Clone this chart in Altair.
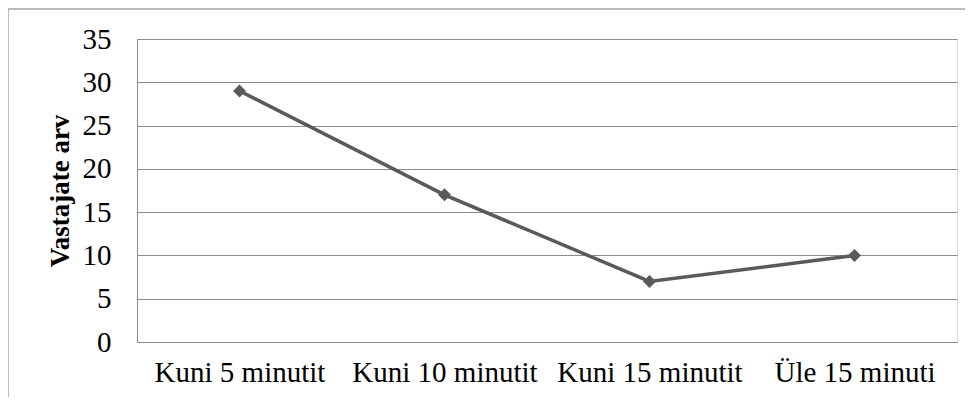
import altair as alt
import pandas as pd

categories = ["Kuni 5 minutit", "Kuni 10 minutit", "Kuni 15 minutit", "Üle 15 minuti"]
values = [29, 17, 7, 10]
y_ticks = [0, 5, 10, 15, 20, 25, 30, 35]

df = pd.DataFrame({"kategooria": categories, "vastajad": values})

W, H = 820, 303
FONT = "Liberation Serif"

one = pd.DataFrame({"a": [0]})
frame_top = alt.Chart(one).mark_rule(color="#a6a6a6", strokeWidth=1.5).encode(
    x=alt.value(-129), x2=alt.value(W + 100), y=alt.value(-30)
)
frame_left = alt.Chart(one).mark_rule(color="#a6a6a6", strokeWidth=1.5).encode(
    x=alt.value(-129), y=alt.value(-30), y2=alt.value(H + 100)
)

base = alt.Chart(df).encode(
    x=alt.X("kategooria:N", sort=categories, title=None,
            scale=alt.Scale(paddingInner=0, paddingOuter=0, align=0.5),
            axis=alt.Axis(labelAngle=0, labelFont=FONT, labelFontSize=29,
                          labelColor="#000000", labelPadding=16,
                          labelBaseline="top", labelLimit=300,
                          ticks=False, domain=True, domainColor="#8c8c8c",
                          grid=False)),
    y=alt.Y("vastajad:Q", title="Vastajate arv",
            scale=alt.Scale(domain=[0, 35], nice=False),
            axis=alt.Axis(values=y_ticks, labelFont=FONT, labelFontSize=29,
                          labelColor="#000000", labelPadding=26,
                          ticks=False, domain=True, domainColor="#8c8c8c",
                          grid=True, gridColor="#8c8c8c", gridWidth=1,
                          titleFont=FONT, titleFontSize=27, titleFontWeight="bold",
                          titleColor="#000000", titlePadding=8)),
)

line = base.mark_line(color="#5a5a5a", strokeWidth=3.5)
points = base.mark_point(shape="diamond", filled=True, size=170,
                         color="#5a5a5a", opacity=1)

chart = alt.layer(frame_top, frame_left, line, points).properties(
    width=W, height=H,
    autosize=alt.AutoSizeParams(type="none"),
    padding={"left": 129, "top": 31, "right": 8, "bottom": 55},
).configure_view(stroke=None).configure(background="white")

chart.save("out.html", embed_options={"renderer": "svg", "actions": False})
